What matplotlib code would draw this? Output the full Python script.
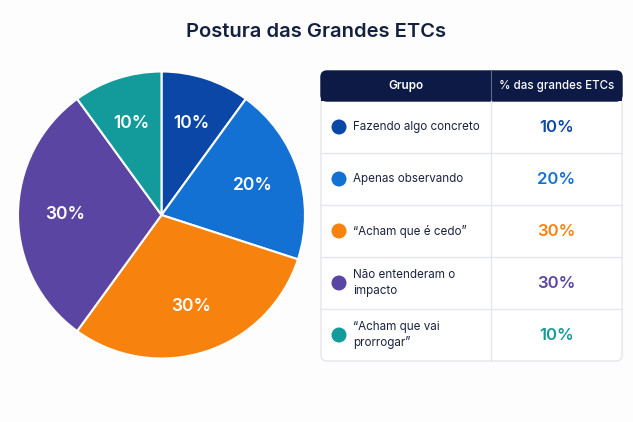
import matplotlib.pyplot as plt
from matplotlib.patches import FancyBboxPatch, Rectangle, Circle

plt.rcParams['font.family'] = ['Inter', 'DejaVu Sans']

# Dados
grupos = ['Fazendo algo concreto', 'Apenas observando', '“Acham que é cedo”',
          'Não entenderam o\nimpacto', '“Acham que vai\nprorrogar”']
percentuais = [10, 20, 30, 30, 10]
cores = ['#0B47A6', '#1471D4', '#F7820E', '#5A46A2', '#139B9B']

W, H = 633, 422
fig = plt.figure(figsize=(W / 100, H / 100), dpi=100)
fig.patch.set_facecolor('#FDFDFE')

# Pizza
cx, cy, r = 161.5, 215, 143.5
ax = fig.add_axes([(cx - r) / W, (H - cy - r) / H, 2 * r / W, 2 * r / H])
ax.pie(percentuais, colors=cores, startangle=90, counterclock=False,
       autopct='%d%%', pctdistance=0.67,
       wedgeprops=dict(edgecolor='white', linewidth=1.5),
       textprops=dict(color='white', fontsize=12.5, fontweight='semibold'))
ax.set_xlim(-1, 1)
ax.set_ylim(-1, 1)
ax.set_aspect('equal')

# Camada em pixels para título e tabela
ov = fig.add_axes([0, 0, 1, 1])
ov.set_xlim(0, W)
ov.set_ylim(H, 0)
ov.axis('off')

ov.text(316, 32, 'Postura das Grandes ETCs', ha='center', va='center',
        fontsize=14.5, fontweight='semibold', color='#14203F')

# Tabela
x0, x1, xm = 321, 622, 491
y_top, y_head = 71, 101
alt_linha = 52
y_bot = y_head + alt_linha * len(grupos)

ov.add_patch(FancyBboxPatch((x0, y_top), x1 - x0, y_bot - y_top,
                            boxstyle='round,pad=0,rounding_size=6',
                            facecolor='white', edgecolor='#E4E6EC', lw=1, zorder=1))
ov.add_patch(FancyBboxPatch((x0, y_top), x1 - x0, y_head - y_top,
                            boxstyle='round,pad=0,rounding_size=6',
                            facecolor='#0C1A45', edgecolor='#0C1A45', lw=1, zorder=2))
ov.add_patch(Rectangle((x0, y_top + 10), x1 - x0, y_head - y_top - 10,
                       facecolor='#0C1A45', edgecolor='none', zorder=2))
ov.plot([xm, xm], [y_top, y_head], color='#5C6788', lw=0.8, zorder=3)
ov.plot([xm, xm], [y_head, y_bot], color='#E4E6EC', lw=1, zorder=3)

ov.text((x0 + xm) / 2, (y_top + y_head) / 2, 'Grupo', ha='center', va='center',
        fontsize=8.5, color='white', fontweight='semibold', zorder=4)
ov.text((xm + x1) / 2, (y_top + y_head) / 2, '% das grandes ETCs', ha='center',
        va='center', fontsize=8.3, color='white', fontweight='medium', zorder=4)

for i, (g, p, c) in enumerate(zip(grupos, percentuais, cores)):
    ya = y_head + i * alt_linha
    yc = ya + alt_linha / 2
    if i > 0:
        ov.plot([x0, x1], [ya, ya], color='#E4E6EC', lw=1, zorder=3)
    ov.add_patch(Circle((339, yc), 7.5, facecolor=c, edgecolor='none', zorder=4))
    ov.text(353, yc, g, ha='left', va='center', fontsize=8.4, color='#1B2340',
            linespacing=1.35, zorder=4)
    ov.text((xm + x1) / 2, yc + 1, f'{p}%', ha='center', va='center', fontsize=12,
            fontweight='semibold', color=c, zorder=4)

fig.savefig('out.png', dpi=100, facecolor=fig.get_facecolor())
